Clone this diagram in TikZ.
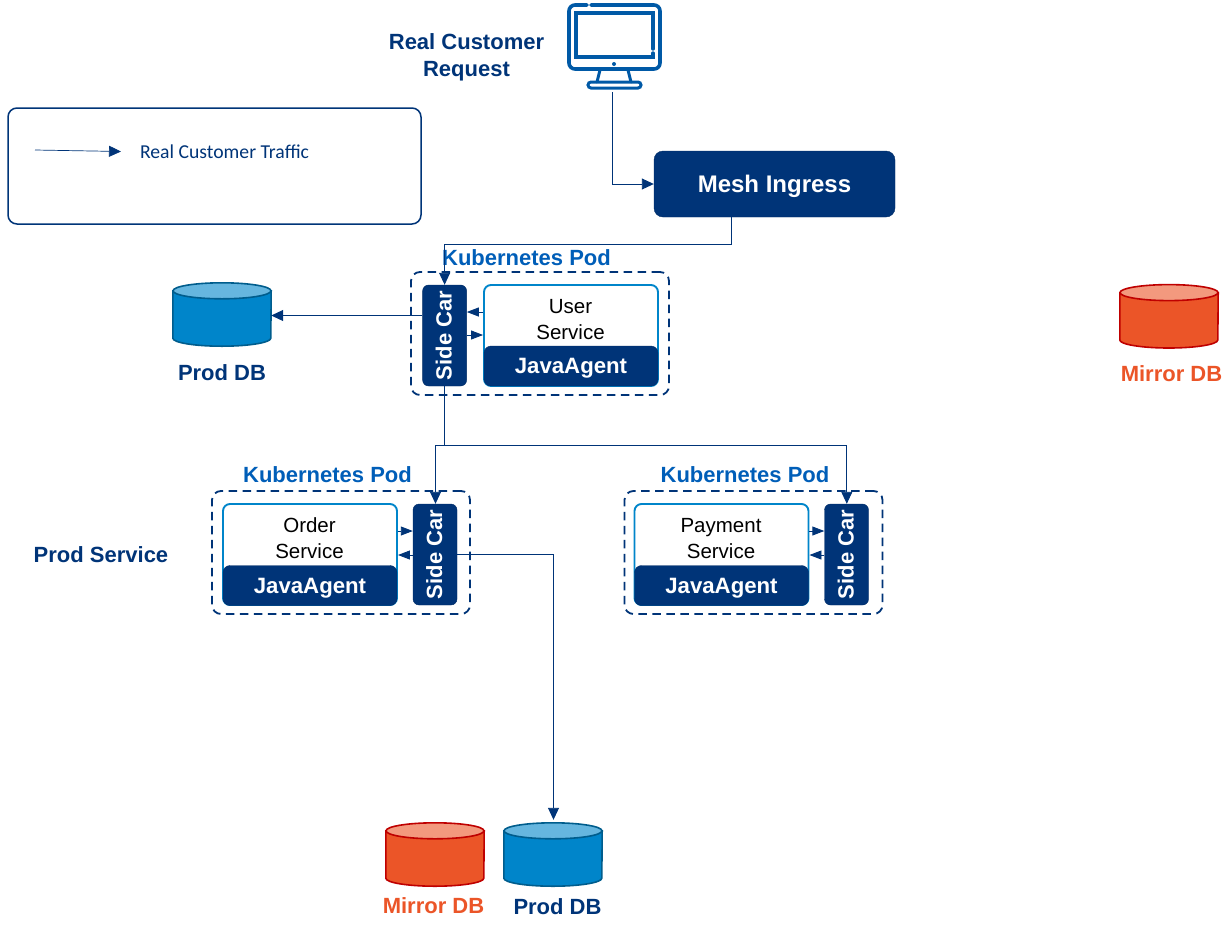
\documentclass[tikz,border=0pt]{standalone}
\usepackage{fontspec}
\usepackage{graphicx}
\setmainfont{Liberation Sans}
\newfontfamily\legendfont{Carlito}
\usetikzlibrary{arrows.meta}
\definecolor{navy}{HTML}{003478}
\definecolor{podblue}{HTML}{005EB8}
\definecolor{boxblue}{HTML}{0085CA}
\definecolor{screenblue}{HTML}{0059A6}
\definecolor{mirrororange}{HTML}{EB5528}
\tikzset{
  flow/.style={draw=navy, line width=0.9pt, -{Triangle[length=12pt,width=11pt]}},
  smallflow/.style={draw=navy, line width=0.9pt, -{Triangle[length=12pt,width=9pt]}},
  podbox/.style={draw=navy, line width=1.8pt, dash pattern=on 8.5pt off 5.5pt, rounded corners=9pt, inner sep=0pt},
  servicebox/.style={draw=boxblue, line width=1.9pt, fill=white, rounded corners=7pt, inner sep=0pt, minimum width=174pt, minimum height=101pt},
  servicetext/.style={inner sep=0pt, align=center, font=\fontsize{20.5}{26}\selectfont},
  agentbox/.style={draw=navy!85!black, fill=navy, rounded corners=7pt, inner sep=0pt, minimum width=174pt, minimum height=40pt, text=white, text depth=0pt, font=\fontsize{22.2}{24}\selectfont\bfseries},
  carbox/.style={draw=navy!85!black, fill=navy, rounded corners=6pt, inner sep=0pt, minimum width=44pt, minimum height=101pt, text=white, font=\fontsize{22}{24}\selectfont\bfseries},
  podlabel/.style={text=podblue, inner sep=0pt, font=\fontsize{22}{24}\selectfont\bfseries},
  navylabel/.style={text=navy, inner sep=0pt, align=center, font=\fontsize{22}{27}\selectfont\bfseries},
  mirrorlabel/.style={text=mirrororange, inner sep=0pt, font=\fontsize{22}{24}\selectfont\bfseries},
  dbshape/.style={inner sep=0pt, minimum width=98pt, minimum height=63pt},
  dbline/.style={line width=1.6pt},
  screenline/.style={draw=screenblue, line width=3.6pt, line cap=round, rounded corners=6pt}
}
% db can: name, centre, border, body colour, top colour
\newcommand{\dbcan}[5]{
\node[dbshape] (#1) at (#2) {};
\draw[dbline, draw=#3, fill=#4] ([yshift=-8pt]#1.north west) -- ([yshift=8pt]#1.south west) arc[start angle=180,end angle=360,x radius=49pt,y radius=8pt] -- ([yshift=-8pt]#1.north east) -- cycle;
\draw[dbline, draw=#3, fill=#5] ([yshift=-8pt]#1.north) ellipse[x radius=49pt,y radius=8pt];
}
\newcommand{\sidecartext}{\hspace*{-1.5pt}\rotatebox{90}{Side Car}}
\begin{document}
\begin{tikzpicture}[x=1pt,y=-1pt]
\useasboundingbox (0,0) rectangle (1228,927);

% request screen
\draw[screenline] (587,5) -- (569,5) -- (569,69) -- (660,69) -- (660,5) -- (591,5);
\draw[screenline,rounded corners=0pt,line width=3.4pt] (653,49) -- (653,13) -- (576,13) -- (576,57) -- (653,57) -- (653,53);
\draw[screenline,rounded corners=0pt,line width=3pt] (600,70) -- (597,82) (628,70) -- (631,82);
\draw[screenline,rounded corners=3pt,line width=3pt] (588,82) rectangle (641,88);
\fill[screenblue] (614,64) circle (2pt);
\coordinate (screen) at (612.5,92);
\node[navylabel] (request) at (466.5,57) {Real Customer\\Request};

% legend
\node[draw=navy, line width=1.5pt, rounded corners=9pt, minimum width=413pt, minimum height=116pt, inner sep=0pt] (legend) at (214.5,166) {};
\coordinate (legendstart) at (35,150);
\node[inner sep=0pt, text=navy, font=\fontsize{19.7}{22}\legendfont] (legendtext) at (224.5,152) {Real Customer Traffic};
\coordinate (legendend) at (121,151.5);

\node[draw=navy!85!black, fill=navy, rounded corners=9pt, minimum width=241pt, minimum height=66pt, inner sep=0pt, text=white, text depth=0pt, font=\fontsize{24}{28}\selectfont\bfseries] (ingress) at (774.5,184) {Mesh Ingress};

% user pod
\node[podbox, minimum width=258pt, minimum height=123pt] (userpod) at (540,333.5) {};
\node[podlabel] (userpodlabel) at (526.5,257.5) {Kubernetes Pod};
\node[carbox] (usercar) at (444.6,335.5) {\sidecartext};
\node[servicebox] (user) at (571,335.5) {};
\node[agentbox] (useragent) at (571,366) {JavaAgent};
\node[servicetext] (usertext) at (570.5,319.5) {User\\Service};

% order pod
\node[podbox, minimum width=258pt, minimum height=123pt] (orderpod) at (341,552.5) {};
\node[podlabel] (orderpodlabel) at (327.5,474.5) {Kubernetes Pod};
\node[carbox] (ordercar) at (435,554.5) {\sidecartext};
\node[servicebox] (order) at (310,554.5) {};
\node[agentbox] (orderagent) at (310,585.5) {JavaAgent};
\node[servicetext] (ordertext) at (309.5,538) {Order\\Service};

% payment pod
\node[podbox, minimum width=258pt, minimum height=123pt] (paypod) at (753.5,552.5) {};
\node[podlabel] (paypodlabel) at (745,474.5) {Kubernetes Pod};
\node[carbox] (paycar) at (846.5,554.5) {\sidecartext};
\node[servicebox] (pay) at (721.5,554.5) {};
\node[agentbox] (payagent) at (721.5,585.5) {JavaAgent};
\node[servicetext] (paytext) at (721,538.5) {Payment\\Service};

\node[navylabel] (prodservice) at (101,554.5) {Prod Service};

% databases
\dbcan{dbtop}{222,314.5}{boxblue!70!black}{boxblue}{boxblue!60!white}
\node[navylabel] (dbtoplabel) at (222,372.5) {Prod DB};
\dbcan{mirrortop}{1169,316.3}{red!75!black}{mirrororange}{mirrororange!60!white}
\node[mirrorlabel] (mirrortoplabel) at (1171.5,373.5) {Mirror DB};
\dbcan{mirrorlow}{435,854.5}{red!75!black}{mirrororange}{mirrororange!60!white}
\node[mirrorlabel] (mirrorlowlabel) at (433.5,906) {Mirror DB};
\dbcan{dblow}{553,854.5}{boxblue!70!black}{boxblue}{boxblue!60!white}
\node[navylabel] (dblowlabel) at (557.5,907) {Prod DB};

% traffic
\draw[flow,line width=0.7pt] (legendstart) -- (legendend);
\draw[flow] (screen) |- (ingress.west);
\draw[flow] ([xshift=-43pt]ingress.south) |- (444.6,244) -- (usercar.north);
\draw[flow] ([yshift=20pt]usercar.west) -- (dbtop.east |- 0,315.5);
\draw[smallflow] ([yshift=23.5pt]user.west) -- ([yshift=23.5pt]usercar.east);
\draw[smallflow] ([yshift=0.5pt]usercar.east) -- ([yshift=0.5pt]user.west);
\draw[draw=navy,line width=0.9pt] (usercar.south) -- (444.6,445);
\draw[flow] (444.6,445) -| ([xshift=0.5pt]ordercar.north);
\draw[flow] (444.6,445) -| ([xshift=0.3pt]paycar.north);
\draw[smallflow] ([yshift=23.5pt]order.east) -- ([yshift=23.5pt]ordercar.west);
\draw[smallflow] ([yshift=-0.5pt]ordercar.west) -- ([yshift=-0.5pt]order.east);
\draw[smallflow] ([yshift=23.5pt]pay.east) -- ([yshift=23.5pt]paycar.west);
\draw[smallflow] ([yshift=-0.5pt]paycar.west) -- ([yshift=-0.5pt]pay.east);
\draw[flow] (ordercar.east) -| ([xshift=0.5pt,yshift=3pt]dblow.north);
\end{tikzpicture}
\end{document}
